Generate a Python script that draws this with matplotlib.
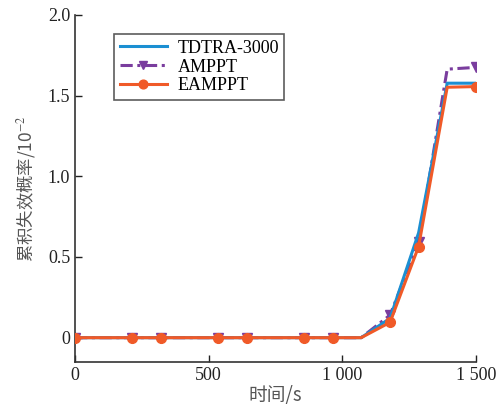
import matplotlib
matplotlib.use("Agg")
import matplotlib.pyplot as plt

x = [0, 214, 321, 536, 643, 857, 964, 1071, 1179, 1286, 1393, 1500]
tdtra = [0, 0, 0, 0, 0, 0, 0, 0, 0.12, 0.65, 1.577, 1.577]
amppt = [0, 0, 0, 0, 0, 0, 0, 0, 0.14, 0.59, 1.664, 1.675]
eamppt = [0, 0, 0, 0, 0, 0, 0, 0, 0.095, 0.565, 1.552, 1.556]
marks = [0, 1, 2, 3, 4, 5, 6, 8, 9, 11]
xticks = [0, 500, 1000, 1500]
xticklabels = ["0", "500", "1 000", "1 500"]
yticks = [0, 0.5, 1.0, 1.5, 2.0]
yticklabels = ["0", "0.5", "1.0", "1.5", "2.0"]

plt.rcParams['font.family'] = ['Liberation Serif', 'DejaVu Serif']
plt.rcParams['mathtext.fontset'] = 'stix'

fig = plt.figure(figsize=(5.04, 4.15), dpi=100)
ax = fig.add_axes([0.149, 0.128, 0.795, 0.836])

c_blue = '#1b8fd2'
c_purple = '#7a3d9e'
c_orange = '#f05a28'

ax.plot(x, tdtra, color=c_blue, lw=2.2, label='TDTRA-3000', zorder=3)
ax.plot(x, amppt, color=c_purple, lw=2.2, ls=(0, (4, 1.5, 1, 1.5)), marker='v',
        markersize=7, markevery=marks, label='AMPPT', zorder=2)
ax.plot(x, eamppt, color=c_orange, lw=2.2, marker='o', markersize=7,
        markevery=marks, label='EAMPPT', zorder=4)

ax.set_xlim(0, 1500)
ax.set_ylim(-0.15, 2.0)
ax.set_xticks(xticks)
ax.set_xticklabels(xticklabels)
ax.set_yticks(yticks)
ax.set_yticklabels(yticklabels)
ax.tick_params(direction='in', length=5, width=1, labelsize=13, colors='#222222')
for s in ['top', 'right']:
    ax.spines[s].set_visible(False)
for s in ['left', 'bottom']:
    ax.spines[s].set_linewidth(1.2)
    ax.spines[s].set_color('#333333')

ax.set_xlabel('时间/s', family=['Noto Sans CJK SC', 'DejaVu Sans'], fontsize=13.5,
              color='#555555', labelpad=1)
ax.set_ylabel('累积失效概率/10$^{-2}$', family=['Noto Sans CJK SC', 'DejaVu Sans'],
              fontsize=12.5, color='#555555', labelpad=7)

leg = ax.legend(loc='upper left', bbox_to_anchor=(0.075, 0.97), fontsize=13,
                frameon=True, fancybox=False, edgecolor='#333333',
                handlelength=2.6, handletextpad=0.6, borderpad=0.3,
                labelspacing=0.1, markerscale=0.9)
leg.get_frame().set_linewidth(1.2)

fig.savefig('out.png', dpi=100)
